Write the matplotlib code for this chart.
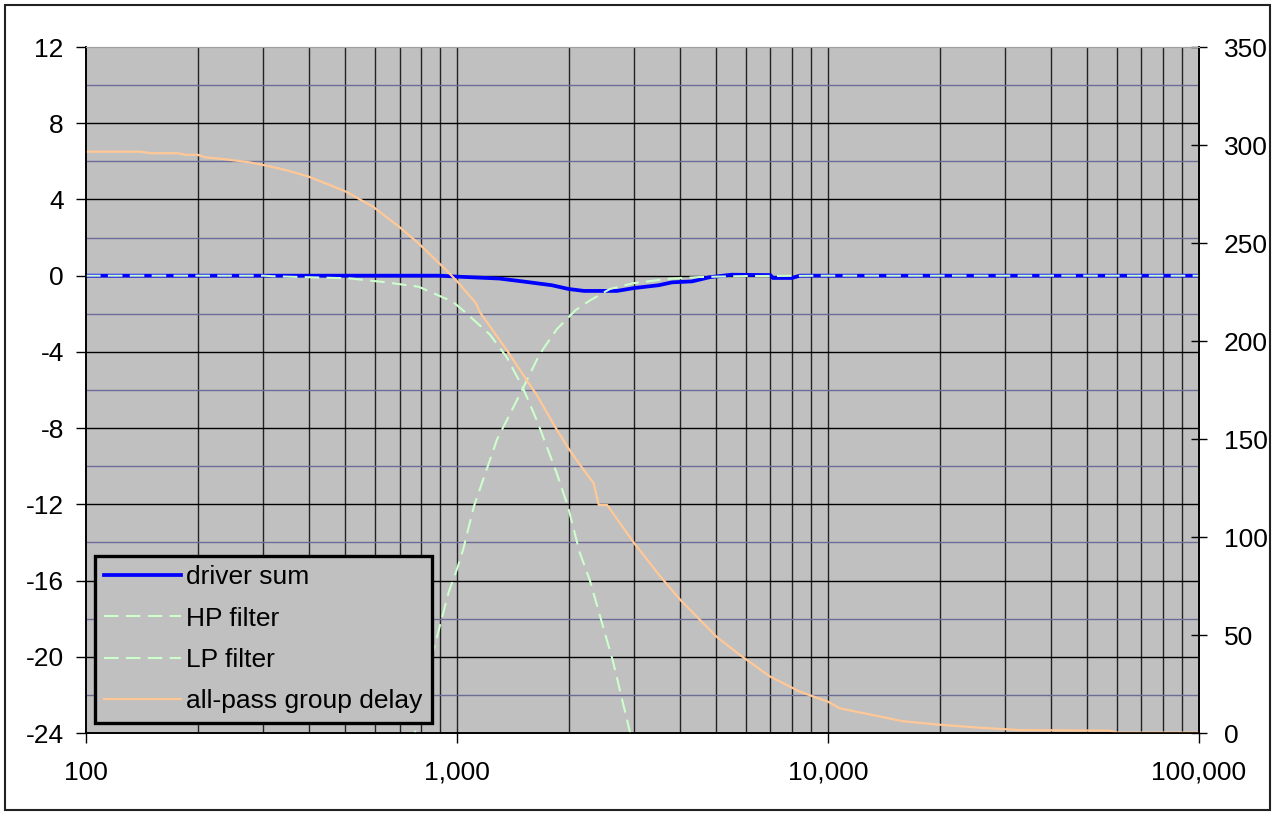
import numpy as np
import matplotlib.pyplot as plt
from matplotlib.ticker import FixedLocator, FuncFormatter, MultipleLocator
from matplotlib.patches import Rectangle

plt.rcParams['font.family'] = ['Liberation Sans', 'DejaVu Sans']
plt.rcParams['font.size'] = 19
plt.rcParams['axes.unicode_minus'] = False

# driver sum response (dB)
sum_f = [100, 900, 1000, 1300, 1500, 1800, 2000, 2200, 2700, 3000, 3500,
         3800, 4300, 4800, 5500, 7000, 7100, 8000, 8400, 100000]
sum_db = [0, 0, -0.05, -0.15, -0.3, -0.5, -0.7, -0.8, -0.8, -0.65, -0.5,
          -0.35, -0.3, -0.08, 0.05, 0.03, -0.12, -0.12, 0, 0]

# high-pass filter (dB)
hp_f = [700, 760, 850, 950, 1000, 1038, 1111, 1282, 1507, 1643, 1700, 1860,
        2090, 2282, 2583, 2979, 3680, 4518, 6000, 10000, 100000]
hp_db = [-28, -24.5, -20.2, -16.6, -15.4, -14.4, -12.1, -8.6, -5.9, -4.4, -3.9,
         -2.8, -1.8, -1.3, -0.7, -0.4, -0.17, -0.07, -0.02, 0, 0]

# low-pass filter (dB)
lp_f = [100, 300, 320, 512, 632, 788, 975, 1064, 1228, 1364, 1507, 1650, 1860,
        1990, 2140, 2282, 2630, 2930, 3100]
lp_db = [0, 0, -0.03, -0.14, -0.33, -0.58, -1.37, -2.0, -3.1, -4.3, -5.9, -7.7,
         -10.4, -12.1, -14.5, -16.0, -20.2, -24.0, -26.0]

# all-pass group delay (right axis)
gd_f = [100, 140, 150, 177, 186, 200, 210, 238, 275, 306, 346, 399, 443, 502,
        594, 698, 788, 935, 1000, 1126, 1150, 1372, 1541, 1642, 1860, 1995,
        2148, 2336, 2411, 2540, 3000, 3540, 4000, 4520, 5000, 5870, 6980, 8400,
        10000, 10760, 14000, 15800, 19500, 25700, 32800, 57500, 60000, 100000]
gd_val = [296.6, 296.6, 295.8, 295.8, 295, 295, 293.7, 292.7, 291.2, 289.5,
          287.2, 283.8, 280.4, 276.2, 268.5, 258.3, 249.8, 236.2, 230.5, 219.2,
          215, 194.5, 180, 172.4, 154.6, 145.4, 136.7, 127.4, 116.3, 116.3, 97,
          79.7, 67.9, 57.7, 49.2, 39, 28.8, 21.1, 16, 12.6, 8.2, 6.1, 4.4, 2.7,
          1.5, 1.2, 0.2, 0.2]

fig = plt.figure(figsize=(12.76, 8.16), dpi=100)
fig.patches.append(Rectangle((0.004, 0.007), 0.9914, 0.9865, transform=fig.transFigure,
                             fill=False, edgecolor='#222222', linewidth=1.5))

ax = fig.add_axes([0.0674, 0.1017, 0.8722, 0.8407])
ax.set_facecolor('#c0c0c0')
ax.set_xscale('log')
ax.set_xlim(100, 100000)
ax.set_ylim(-24, 12)

# grid lines
for f in [m * 10 ** d for d in range(2, 5) for m in range(1, 10)][1:]:
    ax.axvline(f, color='#222222', lw=1.0, zorder=0.5)
for y in range(-22, 12, 4):
    ax.axhline(y, color='#6c6c96', lw=1.0, zorder=0.5)
for y in range(-20, 12, 4):
    ax.axhline(y, color='black', lw=1.0, zorder=0.5)

l1, = ax.plot(sum_f, sum_db, color='#0000ff', lw=2.7, label='driver sum', zorder=2)
l2, = ax.plot(hp_f, hp_db, color='#ccffcc', lw=1.5, dashes=(7, 3.5), label='HP filter', zorder=3)
l3, = ax.plot(lp_f, lp_db, color='#ccffcc', lw=1.5, dashes=(7, 3.5), label='LP filter', zorder=3)

ax.xaxis.set_major_locator(FixedLocator([100, 1000, 10000, 100000]))
ax.xaxis.set_minor_locator(FixedLocator([]))
ax.xaxis.set_major_formatter(FuncFormatter(lambda x, p: f"{int(round(x)):,}"))
ax.yaxis.set_major_locator(MultipleLocator(4))
ax.tick_params(axis='x', direction='out', length=7, width=1, pad=13)
ax.tick_params(axis='y', direction='out', length=7, width=1, pad=9)

ax2 = ax.twinx()
ax2.set_ylim(0, 350)
ax2.yaxis.set_major_locator(MultipleLocator(50))
ax2.tick_params(axis='y', direction='inout', length=12, width=1, pad=12)
l4, = ax2.plot(gd_f, gd_val, color='#ffc896', lw=1.6, label='all-pass group delay')

for a in (ax, ax2):
    for s in ('left', 'right', 'bottom'):
        a.spines[s].set_color('black')
        a.spines[s].set_linewidth(1.2)
    a.spines['top'].set_color('#a0a0a0')

leg = ax2.legend(handles=[l1, l2, l3, l4], loc='lower left', bbox_to_anchor=(0.008, 0.015),
                 borderaxespad=0, fancybox=False, framealpha=1, facecolor='#c0c0c0',
                 edgecolor='black', handlelength=2.9, handletextpad=0.2,
                 labelspacing=0.66, borderpad=0.35, fontsize=19)
leg.get_frame().set_linewidth(2.4)

fig.savefig('out.png', dpi=100)
